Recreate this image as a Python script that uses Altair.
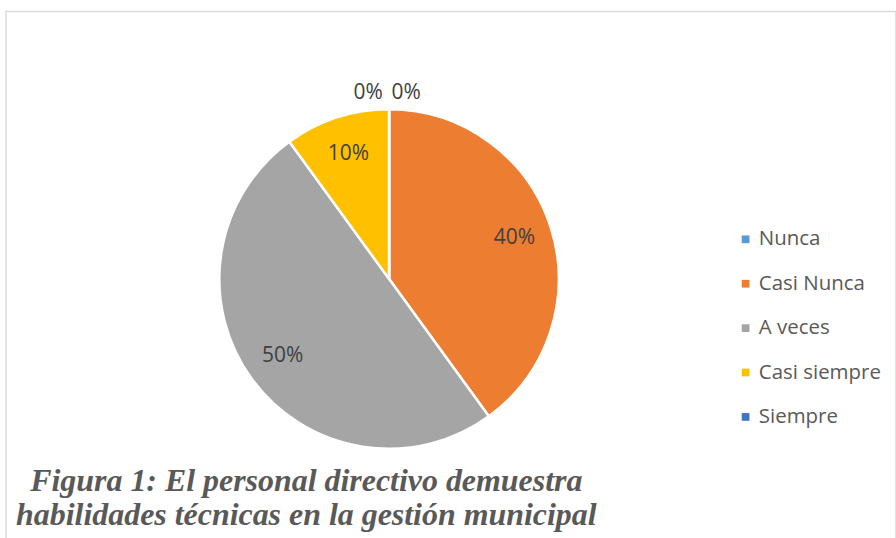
import altair as alt
import pandas as pd

categories = ["Nunca", "Casi Nunca", "A veces", "Casi siempre", "Siempre"]
values = [0, 40, 50, 10, 0]
colors = ["#5B9BD5", "#ED7D31", "#A5A5A5", "#FFC000", "#4472C4"]
labels = ["0%", "40%", "50%", "10%", "0%"]
title_lines = ["Figura 1: El personal directivo demuestra",
               "habilidades técnicas en la gestión municipal"]

df = pd.DataFrame({
    "categoria": categories,
    "valor": values,
    "etiqueta": labels,
    "orden": list(range(len(categories))),
})

CX, CY = 384, 268
R = 170
FONT = "Open Sans"

base = alt.Chart(df).encode(
    theta=alt.Theta("valor:Q", stack=True, scale=alt.Scale(domain=[0, 100])),
    order=alt.Order("orden:Q"),
    x=alt.value(CX),
    y=alt.value(CY),
)

pie = base.mark_arc(outerRadius=R, stroke="white", strokeWidth=2.5).encode(
    color=alt.Color(
        "categoria:N",
        scale=alt.Scale(domain=categories, range=colors),
        sort=categories,
        legend=alt.Legend(
            title=None,
            orient="none",
            legendX=731,
            legendY=218,
            symbolType="square",
            symbolSize=60,
            symbolStrokeWidth=0,
            labelFont=FONT,
            labelFontSize=20.5,
            labelColor="#595959",
            rowPadding=23.5,
            labelOffset=3,
        ),
    )
)

text_main = base.transform_filter("datum.valor > 0").mark_text(
    radius=132, font=FONT, fontSize=21, color="#404040"
).encode(text="etiqueta:N")

text_nunca = base.transform_filter("datum.categoria == 'Nunca'").mark_text(
    radius=186, font=FONT, fontSize=21, color="#404040", dx=-21
).encode(text="etiqueta:N")

text_siempre = base.transform_filter("datum.categoria == 'Siempre'").mark_text(
    radius=186, font=FONT, fontSize=21, color="#404040", dx=17
).encode(text="etiqueta:N")

chart = alt.layer(pie, text_main, text_nunca, text_siempre).properties(
    width=892,
    height=529,
    autosize=alt.AutoSizeParams(type="none"),
    padding={"left": 6, "top": 11, "right": 0, "bottom": 0},
    title=alt.TitleParams(
        text=title_lines,
        orient="bottom",
        anchor="start",
        align="center",
        dx=301,
        dy=-74,
        font="Liberation Serif",
        fontSize=32,
        fontStyle="italic",
        fontWeight="bold",
        color="#595959",
        lineHeight=35,
        offset=0,
    ),
).configure_view(stroke="#d9d9d9", strokeWidth=1.5)

chart.save("out.html", embed_options={"renderer": "svg", "actions": False})
